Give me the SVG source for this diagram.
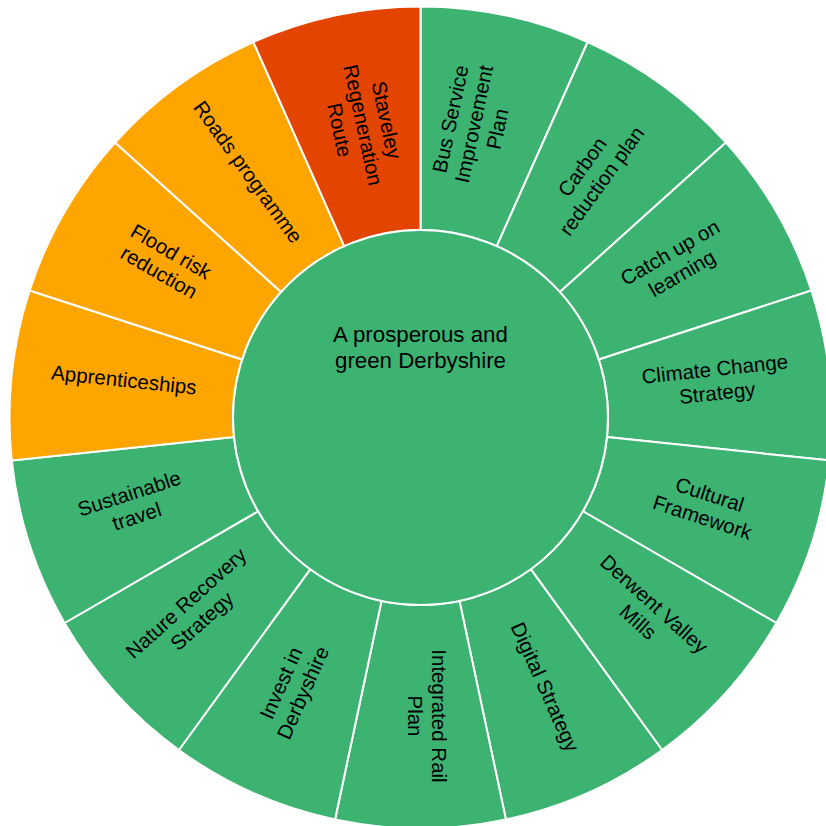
<svg xmlns="http://www.w3.org/2000/svg" width="826" height="826" viewBox="0 0 826 826">
<style>
.seg{stroke:#ffffff;stroke-width:2;stroke-linejoin:round}
.g{fill:#3CB371}
.o{fill:#FFA500}
.r{fill:#E34400}
.lbl{font-family:"Liberation Sans",Arial,sans-serif;font-size:20.5px;fill:#000000;text-anchor:middle}
.ctr{font-family:"Liberation Sans",Arial,sans-serif;font-size:22.3px;fill:#000000;text-anchor:middle}
</style>
<rect width="826" height="826" fill="#ffffff"/>
<g id="segments">
<g id="n-bus"><path class="seg g" d="M420.5,230 L420.5,6.5 A411,411 0 0 1 587.67,42.03 L496.76,246.21 A187.5,187.5 0 0 0 420.5,230 Z"/>
<text class="lbl" transform="translate(474,124) rotate(-78)"><tspan x="0" y="-17">Bus Service</tspan><tspan x="0" y="7">Improvement</tspan><tspan x="0" y="31">Plan</tspan></text></g>
<g id="n-carbon"><path class="seg g" d="M496.76,246.21 L587.67,42.03 A411,411 0 0 1 725.93,142.49 L559.84,292.04 A187.5,187.5 0 0 0 496.76,246.21 Z"/>
<text class="lbl" transform="translate(592,174) rotate(-54)"><tspan x="0" y="-5">Carbon</tspan><tspan x="0" y="19">reduction plan</tspan></text></g>
<g id="n-catch"><path class="seg g" d="M559.84,292.04 L725.93,142.49 A411,411 0 0 1 811.38,290.49 L598.82,359.56 A187.5,187.5 0 0 0 559.84,292.04 Z"/>
<text class="lbl" transform="translate(676,263) rotate(-30)"><tspan x="0" y="-5">Catch up on</tspan><tspan x="0" y="19">learning</tspan></text></g>
<g id="n-climate"><path class="seg g" d="M598.82,359.56 L811.38,290.49 A411,411 0 0 1 829.25,460.46 L606.97,437.10 A187.5,187.5 0 0 0 598.82,359.56 Z"/>
<text class="lbl" transform="translate(716,381) rotate(-6)"><tspan x="0" y="-5">Climate Change</tspan><tspan x="0" y="19">Strategy</tspan></text></g>
<g id="n-cultural"><path class="seg g" d="M606.97,437.10 L829.25,460.46 A411,411 0 0 1 776.44,623.0 L582.88,511.25 A187.5,187.5 0 0 0 606.97,437.10 Z"/>
<text class="lbl" transform="translate(706,506) rotate(18)"><tspan x="0" y="-5">Cultural</tspan><tspan x="0" y="19">Framework</tspan></text></g>
<g id="n-derwent"><path class="seg g" d="M582.88,511.25 L776.44,623.0 A411,411 0 0 1 662.08,750.01 L530.71,569.19 A187.5,187.5 0 0 0 582.88,511.25 Z"/>
<text class="lbl" transform="translate(646,613) rotate(42)"><tspan x="0" y="-5">Derwent Valley</tspan><tspan x="0" y="19">Mills</tspan></text></g>
<g id="n-digital"><path class="seg g" d="M530.71,569.19 L662.08,750.01 A411,411 0 0 1 505.95,819.52 L459.48,600.90 A187.5,187.5 0 0 0 530.71,569.19 Z"/>
<text class="lbl" transform="translate(545,687) rotate(66)"><tspan x="0" y="7">Digital Strategy</tspan></text></g>
<g id="n-rail"><path class="seg g" d="M459.48,600.90 L505.95,819.52 A411,411 0 0 1 335.05,819.52 L381.52,600.90 A187.5,187.5 0 0 0 459.48,600.90 Z"/>
<text class="lbl" transform="translate(427,716) rotate(90)"><tspan x="0" y="-5">Integrated Rail</tspan><tspan x="0" y="19">Plan</tspan></text></g>
<g id="n-invest"><path class="seg g" d="M381.52,600.90 L335.05,819.52 A411,411 0 0 1 178.92,750.01 L310.29,569.19 A187.5,187.5 0 0 0 381.52,600.90 Z"/>
<text class="lbl" transform="translate(292,688) rotate(-66)"><tspan x="0" y="-5">Invest in</tspan><tspan x="0" y="19">Derbyshire</tspan></text></g>
<g id="n-nature"><path class="seg g" d="M310.29,569.19 L178.92,750.01 A411,411 0 0 1 64.56,623.0 L258.12,511.25 A187.5,187.5 0 0 0 310.29,569.19 Z"/>
<text class="lbl" transform="translate(194,612) rotate(-42)"><tspan x="0" y="-5">Nature Recovery</tspan><tspan x="0" y="19">Strategy</tspan></text></g>
<g id="n-sustainable"><path class="seg g" d="M258.12,511.25 L64.56,623.0 A411,411 0 0 1 11.75,460.46 L234.03,437.10 A187.5,187.5 0 0 0 258.12,511.25 Z"/>
<text class="lbl" transform="translate(133,505) rotate(-18)"><tspan x="0" y="-5">Sustainable</tspan><tspan x="0" y="19">travel</tspan></text></g>
<g id="n-apprenticeships"><path class="seg o" d="M234.03,437.10 L11.75,460.46 A411,411 0 0 1 29.62,290.49 L242.18,359.56 A187.5,187.5 0 0 0 234.03,437.10 Z"/>
<text class="lbl" transform="translate(124,380) rotate(6)"><tspan x="0" y="7">Apprenticeships</tspan></text></g>
<g id="n-flood"><path class="seg o" d="M242.18,359.56 L29.62,290.49 A411,411 0 0 1 115.07,142.49 L281.16,292.04 A187.5,187.5 0 0 0 242.18,359.56 Z"/>
<text class="lbl" transform="translate(165,262) rotate(30)"><tspan x="0" y="-5">Flood risk</tspan><tspan x="0" y="19">reduction</tspan></text></g>
<g id="n-roads"><path class="seg o" d="M281.16,292.04 L115.07,142.49 A411,411 0 0 1 253.33,42.03 L344.24,246.21 A187.5,187.5 0 0 0 281.16,292.04 Z"/>
<text class="lbl" transform="translate(248,172) rotate(54)"><tspan x="0" y="7">Roads programme</tspan></text></g>
<g id="n-staveley"><path class="seg r" d="M344.24,246.21 L253.33,42.03 A411,411 0 0 1 420.5,6.5 L420.5,230 A187.5,187.5 0 0 0 344.24,246.21 Z"/>
<text class="lbl" transform="translate(363,125) rotate(78)"><tspan x="0" y="-17">Staveley</tspan><tspan x="0" y="7">Regeneration</tspan><tspan x="0" y="31">Route</tspan></text></g>
</g>
<g id="connectors"></g>
<g id="n-center">
<circle class="seg g" cx="420.5" cy="417.5" r="187.5"/>
<text class="ctr" x="420.5" y="342">A prosperous and</text>
<text class="ctr" x="420.5" y="368">green Derbyshire</text>
</g>
</svg>
